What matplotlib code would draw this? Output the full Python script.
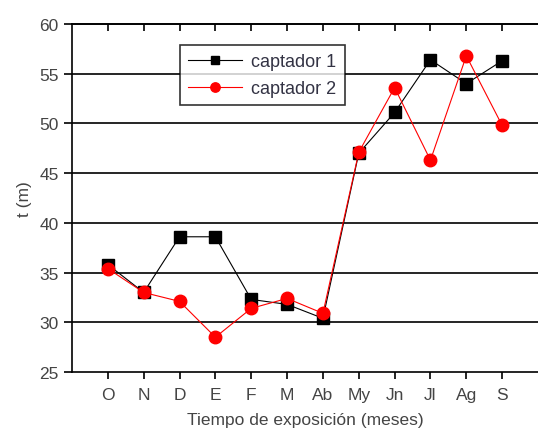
import matplotlib
matplotlib.use("Agg")
import matplotlib.pyplot as plt

months = ["O", "N", "D", "E", "F", "M", "Ab", "My", "Jn", "Jl", "Ag", "S"]
captador_1 = [35.8, 33.0, 38.6, 38.6, 32.3, 31.8, 30.4, 47.0, 51.1, 56.4, 54.0, 56.3]
captador_2 = [35.4, 33.0, 32.1, 28.5, 31.4, 32.4, 30.9, 47.1, 53.6, 46.3, 56.8, 49.8]
y_ticks = [25, 30, 35, 40, 45, 50, 55, 60]

plt.rcParams["font.family"] = ["Liberation Sans", "DejaVu Sans"]
text_color = "#444444"

fig = plt.figure(figsize=(5.38, 4.35), dpi=100)
ax = fig.add_axes([72 / 538, 62 / 435, 466 / 538, 348 / 435])

x = list(range(len(months)))
ax.plot(x, captador_1, color="black", lw=0.8, marker="s", ms=8.5,
        label="captador 1", zorder=3)
ax.plot(x, captador_2, color="red", lw=0.8, marker="o", ms=9,
        label="captador 2", zorder=4)

ax.set_xlim(-1, 12)
ax.set_ylim(25, 60)
ax.set_yticks(y_ticks)
ax.set_xticks(x)
ax.set_xticklabels(months)

for v in y_ticks[1:-1]:
    ax.axhline(v, color="black", lw=1.2, zorder=1)

ax.spines["right"].set_visible(False)
for s in ["left", "bottom", "top"]:
    ax.spines[s].set_linewidth(1.2)

ax.tick_params(axis="both", direction="out", length=6, width=1.2,
               labelsize=12.5, labelcolor=text_color)
ax.tick_params(axis="x", length=5, pad=6)

# inward ticks on the top spine
top = ax.secondary_xaxis("top")
top.set_xticks(x)
top.set_xticklabels([])
top.tick_params(direction="in", length=5, width=1.2)
top.spines["top"].set_linewidth(1.2)

ax.set_xlabel("Tiempo de exposición (meses)", fontsize=12.5, color=text_color, labelpad=7)
ax.set_ylabel("t (m)", fontsize=12.5, color=text_color, labelpad=5)

leg = ax.legend(loc="upper left", bbox_to_anchor=(108 / 466, 1 - 21 / 348),
                frameon=True, fancybox=False, edgecolor="black",
                fontsize=13, handlelength=3.0, borderpad=0.45,
                labelspacing=0.55, handletextpad=0.5, markerscale=0.75,
                borderaxespad=0)
leg.get_frame().set_linewidth(1.2)
leg.set_zorder(5)
for txt in leg.get_texts():
    txt.set_color("#333344")

fig.savefig("out.png", dpi=100)
